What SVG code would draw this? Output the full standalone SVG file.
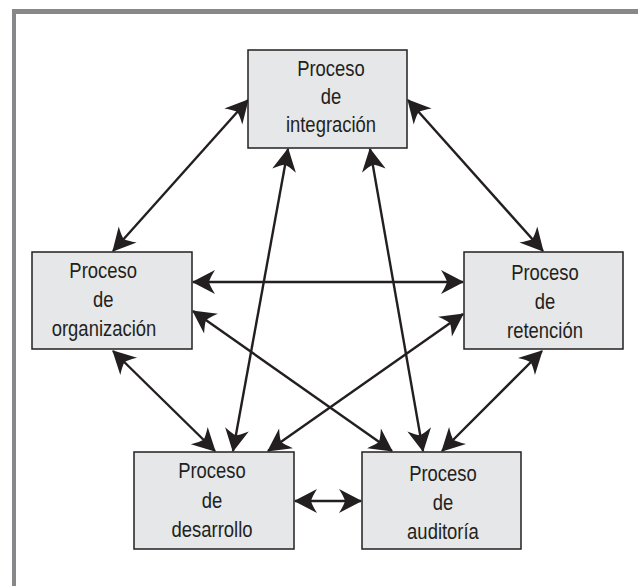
<svg xmlns="http://www.w3.org/2000/svg" width="638" height="586" viewBox="0 0 638 586">
  <style>
    .box { fill: #e6e7e8; stroke: #231f20; stroke-width: 1.5; }
    .lbl { font-family: "Liberation Sans", Arial, sans-serif; font-size: 22.5px; fill: #231f20; text-anchor: middle; }
    .link { stroke: #231f20; stroke-width: 2.4; fill: none; marker-start: url(#head); marker-end: url(#head); }
  </style>
  <defs>
    <marker id="head" markerUnits="userSpaceOnUse" markerWidth="26" markerHeight="26" viewBox="-24 -13 26 26" refX="0" refY="0" orient="auto-start-reverse">
      <path d="M1,0 L-22,-12 Q-17,-4 -16,0 Q-17,4 -22,12 Z" fill="#231f20"/>
    </marker>
  </defs>

  <!-- frame -->
  <rect x="12" y="9" width="626" height="5" fill="#87888a"/>
  <rect x="12" y="9" width="4" height="577" fill="#87888a"/>

  <!-- connectors -->
  <g id="connectors">
    <line class="link" x1="248" y1="100" x2="113" y2="251"/>
    <line class="link" x1="408" y1="100" x2="543" y2="251"/>
    <line class="link" x1="193" y1="282" x2="463" y2="282"/>
    <line class="link" x1="288" y1="149" x2="233" y2="451"/>
    <line class="link" x1="370" y1="149" x2="423" y2="451"/>
    <line class="link" x1="193" y1="311" x2="392" y2="451"/>
    <line class="link" x1="463" y1="314" x2="268" y2="451"/>
    <line class="link" x1="113" y1="351" x2="215" y2="451"/>
    <line class="link" x1="542" y1="351" x2="442" y2="451"/>
    <line class="link" x1="295" y1="501" x2="361" y2="501"/>
  </g>

  <!-- labels are set in a condensed width by scaling x -->
  <g id="integracion">
    <rect class="box" x="248" y="50" width="159" height="98"/>
    <g transform="translate(331 0) scale(0.82 1)">
      <text class="lbl" x="0" y="76">Proceso</text>
      <text class="lbl" x="0" y="104">de</text>
      <text class="lbl" x="0" y="132">integración</text>
    </g>
  </g>

  <g id="organizacion">
    <rect class="box" x="32" y="252" width="160" height="97"/>
    <g transform="translate(104 0) scale(0.82 1)">
      <text class="lbl" x="-1" y="278">Proceso</text>
      <text class="lbl" x="-1" y="307">de</text>
      <text class="lbl" x="0" y="336">organización</text>
    </g>
  </g>

  <g id="retencion">
    <rect class="box" x="464" y="252" width="159" height="97"/>
    <g transform="translate(545 0) scale(0.82 1)">
      <text class="lbl" x="0" y="280">Proceso</text>
      <text class="lbl" x="0" y="309">de</text>
      <text class="lbl" x="0" y="338">retención</text>
    </g>
  </g>

  <g id="desarrollo">
    <rect class="box" x="134" y="452" width="160" height="97"/>
    <g transform="translate(212 0) scale(0.82 1)">
      <text class="lbl" x="0" y="478">Proceso</text>
      <text class="lbl" x="0" y="508">de</text>
      <text class="lbl" x="0" y="537">desarrollo</text>
    </g>
  </g>

  <g id="auditoria">
    <rect class="box" x="362" y="452" width="159" height="97"/>
    <g transform="translate(443 0) scale(0.82 1)">
      <text class="lbl" x="0" y="481">Proceso</text>
      <text class="lbl" x="0" y="510">de</text>
      <text class="lbl" x="0" y="539">auditoría</text>
    </g>
  </g>
</svg>
